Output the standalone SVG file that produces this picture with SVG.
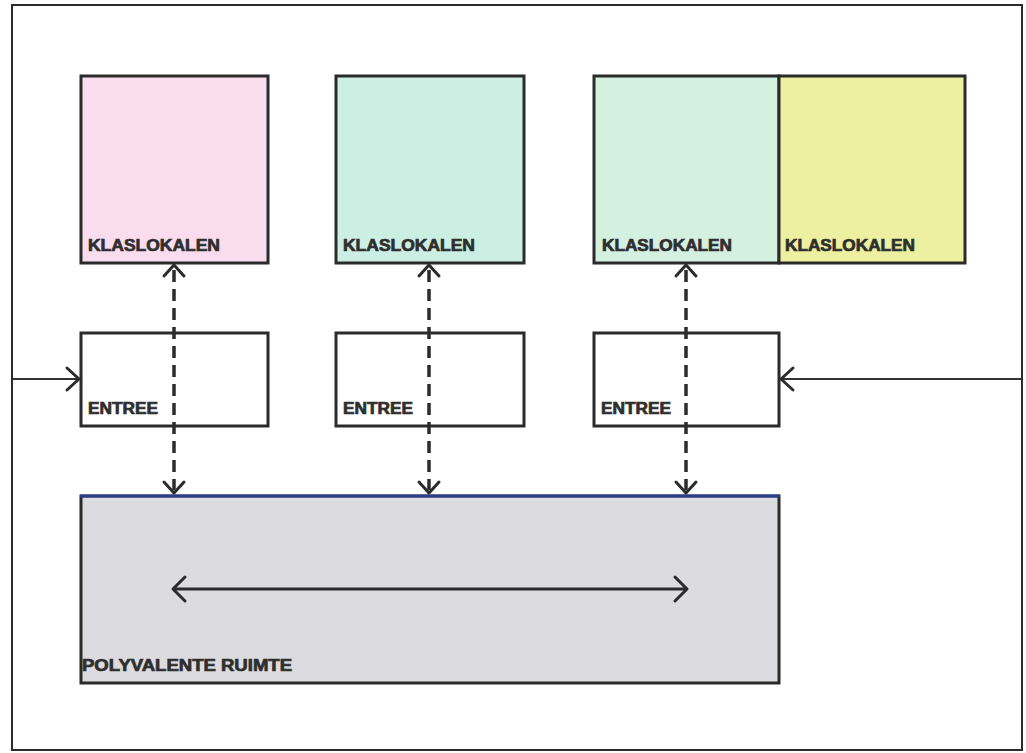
<svg xmlns="http://www.w3.org/2000/svg" width="1026" height="753" viewBox="0 0 1026 753">
<defs>
<style>
.box{stroke:#2b2b2b;stroke-width:3}
.lbl{font-family:"Liberation Sans",Arial,sans-serif;font-weight:bold;font-size:16px;fill:#2e2e2e;stroke:#2e2e2e;stroke-width:0.7}
.dash{stroke:#2b2b2b;stroke-width:3.5;stroke-dasharray:12 7;fill:none}
.solid{stroke:#333;stroke-width:2.2;fill:none}
.head{stroke:#2b2b2b;stroke-width:3;fill:none;stroke-linecap:round;stroke-linejoin:round}
</style>
</defs>
<rect width="1026" height="753" fill="#ffffff"/>
<rect id="frame" x="12" y="5" width="1010" height="745" fill="none" stroke="#2b2b2b" stroke-width="2"/>

<g id="klas1">
<rect class="box" x="81" y="76" width="187" height="187" fill="#fadcef"/>
<text class="lbl" x="88" y="251" textLength="132" lengthAdjust="spacingAndGlyphs">KLASLOKALEN</text>
</g>
<g id="klas2">
<rect class="box" x="336" y="76" width="188" height="187" fill="#ccefe4"/>
<text class="lbl" x="343" y="251" textLength="132" lengthAdjust="spacingAndGlyphs">KLASLOKALEN</text>
</g>
<g id="klas3">
<rect class="box" x="594" y="76" width="185" height="187" fill="#d3f0e0"/>
<text class="lbl" x="602" y="251" textLength="130" lengthAdjust="spacingAndGlyphs">KLASLOKALEN</text>
</g>
<g id="klas4">
<rect class="box" x="779" y="76" width="186" height="187" fill="#ecf0a0"/>
<text class="lbl" x="785" y="251" textLength="130" lengthAdjust="spacingAndGlyphs">KLASLOKALEN</text>
</g>

<g id="entree1">
<rect class="box" x="81" y="333" width="187" height="93" fill="#ffffff"/>
<text class="lbl" x="88" y="414" textLength="70" lengthAdjust="spacingAndGlyphs">ENTREE</text>
</g>
<g id="entree2">
<rect class="box" x="336" y="333" width="188" height="93" fill="#ffffff"/>
<text class="lbl" x="343" y="414" textLength="70" lengthAdjust="spacingAndGlyphs">ENTREE</text>
</g>
<g id="entree3">
<rect class="box" x="594" y="333" width="185" height="93" fill="#ffffff"/>
<text class="lbl" x="601" y="414" textLength="70" lengthAdjust="spacingAndGlyphs">ENTREE</text>
</g>

<g id="polyvalent">
<rect class="box" x="81" y="496" width="698" height="187" fill="#dcdbdf"/>
<line x1="80" y1="496" x2="780" y2="496" stroke="#2c3f8f" stroke-width="3"/>
<text class="lbl" x="82" y="671" textLength="210" lengthAdjust="spacingAndGlyphs">POLYVALENTE RUIMTE</text>
</g>

<g id="connectors">
<line class="dash" x1="174" y1="270" x2="174" y2="490"/>
<polyline class="head" points="164,276 174,265 184,276"/>
<polyline class="head" points="164,482 174,493 184,482"/>
<line class="dash" x1="429" y1="270" x2="429" y2="490"/>
<polyline class="head" points="419,276 429,265 439,276"/>
<polyline class="head" points="419,482 429,493 439,482"/>
<line class="dash" x1="686" y1="270" x2="686" y2="490"/>
<polyline class="head" points="676,276 686,265 696,276"/>
<polyline class="head" points="676,482 686,493 696,482"/>

<line class="solid" x1="13" y1="379" x2="79" y2="379"/>
<polyline class="head" points="67,368 79,379 67,390"/>
<line class="solid" x1="781" y1="379" x2="1021" y2="379"/>
<polyline class="head" points="793,368 781,379 793,390"/>

<line x1="174" y1="589" x2="686" y2="589" stroke="#2b2b2b" stroke-width="3"/>
<polyline class="head" points="185,577 173,589 185,601"/>
<polyline class="head" points="675,577 687,589 675,601"/>
</g>
</svg>
